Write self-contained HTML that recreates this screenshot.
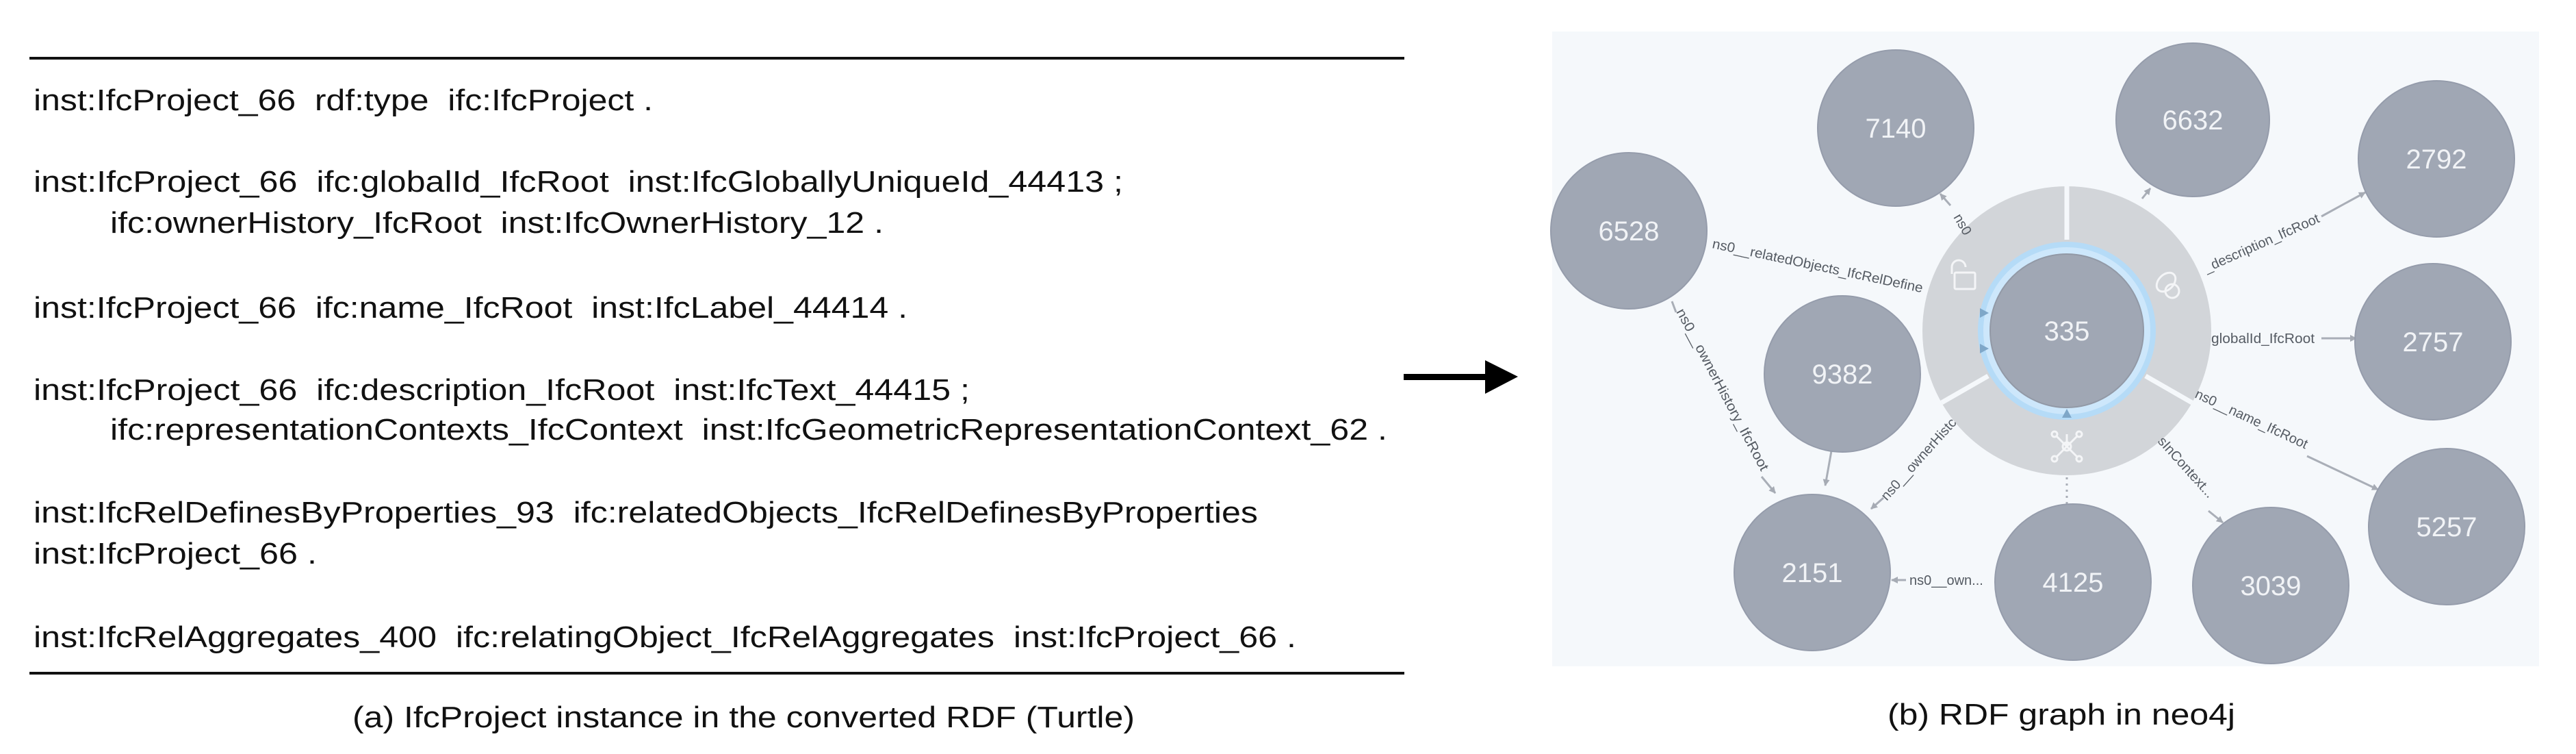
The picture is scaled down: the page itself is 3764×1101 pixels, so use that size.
<!DOCTYPE html>
<html><head><meta charset="utf-8"><style>
html,body{margin:0;padding:0;background:#fff;}
svg{display:block;}
.t{font-family:"Liberation Sans",Arial,sans-serif;font-size:44px;fill:#111;white-space:pre;}
.n{font-family:"Liberation Sans",Arial,sans-serif;font-size:40px;fill:#f1f3f6;text-anchor:middle;}
.l{font-family:"Liberation Sans",Arial,sans-serif;font-size:20px;fill:#555b63;white-space:pre;}
</style></head><body>
<svg width="3764" height="1101" viewBox="0 0 3764 1101" xmlns="http://www.w3.org/2000/svg">
<defs>
<marker id="ah" markerWidth="10" markerHeight="10" refX="9" refY="5" orient="auto" markerUnits="userSpaceOnUse" viewBox="0 0 10 10">
<path d="M0,0 L10,5 L0,10 z" fill="#a6abb4"/></marker>
</defs>
<!-- left panel -->
<rect x="43" y="83" width="2009" height="4" fill="#111"/>
<rect x="43" y="981" width="2009" height="4" fill="#111"/>
<text class="t" x="49" y="161" textLength="905" lengthAdjust="spacingAndGlyphs">inst:IfcProject_66  rdf:type  ifc:IfcProject .</text>
<text class="t" x="49" y="280" textLength="1592" lengthAdjust="spacingAndGlyphs">inst:IfcProject_66  ifc:globalId_IfcRoot  inst:IfcGloballyUniqueId_44413 ;</text>
<text class="t" x="161" y="340" textLength="1130" lengthAdjust="spacingAndGlyphs">ifc:ownerHistory_IfcRoot  inst:IfcOwnerHistory_12 .</text>
<text class="t" x="49" y="464" textLength="1277" lengthAdjust="spacingAndGlyphs">inst:IfcProject_66  ifc:name_IfcRoot  inst:IfcLabel_44414 .</text>
<text class="t" x="49" y="584" textLength="1368" lengthAdjust="spacingAndGlyphs">inst:IfcProject_66  ifc:description_IfcRoot  inst:IfcText_44415 ;</text>
<text class="t" x="161" y="642" textLength="1866" lengthAdjust="spacingAndGlyphs">ifc:representationContexts_IfcContext  inst:IfcGeometricRepresentationContext_62 .</text>
<text class="t" x="49" y="763" textLength="1789" lengthAdjust="spacingAndGlyphs">inst:IfcRelDefinesByProperties_93  ifc:relatedObjects_IfcRelDefinesByProperties</text>
<text class="t" x="49" y="823" textLength="414" lengthAdjust="spacingAndGlyphs">inst:IfcProject_66 .</text>
<text class="t" x="49" y="945" textLength="1845" lengthAdjust="spacingAndGlyphs">inst:IfcRelAggregates_400  ifc:relatingObject_IfcRelAggregates  inst:IfcProject_66 .</text>
<text class="t" x="515" y="1062" textLength="1143" lengthAdjust="spacingAndGlyphs">(a) IfcProject instance in the converted RDF (Turtle)</text>
<!-- arrow -->
<rect x="2051" y="546" width="130" height="9" fill="#000"/>
<path d="M2170,526 L2218,550 L2170,575 z" fill="#000"/>
<!-- right panel -->
<rect x="2268" y="46" width="1442" height="927" fill="#f5f8fb"/>
<g stroke="#a9aeb7" stroke-width="3" fill="none">
<line x1="2850" y1="300" x2="2835" y2="283" marker-end="url(#ah)"/>
<line x1="3130" y1="290" x2="3142" y2="275" marker-end="url(#ah)"/>
<line x1="3392" y1="316" x2="3456" y2="281" marker-end="url(#ah)"/>
<line x1="3392" y1="494" x2="3443" y2="494" marker-end="url(#ah)"/>
<line x1="3371" y1="666" x2="3475" y2="715" marker-end="url(#ah)"/>
<line x1="3227" y1="746" x2="3248" y2="763" marker-end="url(#ah)"/>
<line x1="2574" y1="696" x2="2594" y2="720" marker-end="url(#ah)"/>
<line x1="2677" y1="653" x2="2667" y2="709" marker-end="url(#ah)"/>
<line x1="2752" y1="727" x2="2734" y2="743" marker-end="url(#ah)"/>
<line x1="2785" y1="847" x2="2764" y2="847" marker-end="url(#ah)"/>
<line x1="2443" y1="440" x2="2449" y2="456"/>
<line x1="3020" y1="697" x2="3020" y2="737" stroke-dasharray="3,6"/>
</g>
<!-- center ring -->
<circle cx="3020" cy="483" r="211" fill="#d2d5d9"/>
<g stroke="#f5f8fb" stroke-width="7">
<line x1="3020" y1="270" x2="3020" y2="350"/>
<line x1="2837" y1="588" x2="2905" y2="549"/>
<line x1="3203" y1="588" x2="3135" y2="549"/>
</g>
<circle cx="3020" cy="483" r="126" fill="#cde7fb" stroke="#b5dbf7" stroke-width="8"/>
<circle cx="3020" cy="483" r="112" fill="#a0a7b4" stroke="#9299a6" stroke-width="2"/>
<g fill="#7fa7c8">
<path d="M2893,450 L2906,457 L2893,464 z"/><path d="M2893,502 L2906,509 L2893,516 z"/><path d="M3013,610 L3020,597 L3027,610 z"/>
</g>
<!-- icons -->
<g stroke="#f4f5f7" stroke-width="3" fill="none">
<rect x="2856" y="398" width="30" height="24" rx="2"/>
<path d="M2852,400 v-10 a10,10 0 0 1 20,0"/>
<ellipse cx="3165" cy="412" rx="16" ry="11" transform="rotate(-45 3165 412)"/>
<circle cx="3174" cy="425" r="10"/>
<circle cx="3020" cy="652" r="6"/>
<path d="M3020,652 L3004,636 M3020,652 L3036,636 M3020,652 L3004,668 M3020,652 L3036,668 M3020,652 L3020,634"/>
<circle cx="3002" cy="634" r="4"/><circle cx="3038" cy="634" r="4"/><circle cx="3002" cy="670" r="4"/><circle cx="3038" cy="670" r="4"/>
</g>
<!-- nodes -->
<g fill="#a0a7b4" stroke="#959cab" stroke-width="2">
<circle cx="2770" cy="187" r="114"/>
<circle cx="3204" cy="175" r="112"/>
<circle cx="3560" cy="232" r="114"/>
<circle cx="2380" cy="337" r="114"/>
<circle cx="2692" cy="546" r="114"/>
<circle cx="3555" cy="499" r="114"/>
<circle cx="3575" cy="769" r="114"/>
<circle cx="2648" cy="836" r="114"/>
<circle cx="3029" cy="850" r="114"/>
<circle cx="3318" cy="855" r="114"/>
</g>
<text class="n" x="2770" y="201">7140</text>
<text class="n" x="3204" y="189">6632</text>
<text class="n" x="3560" y="246">2792</text>
<text class="n" x="2380" y="351">6528</text>
<text class="n" x="2692" y="560">9382</text>
<text class="n" x="3020" y="497">335</text>
<text class="n" x="3555" y="513">2757</text>
<text class="n" x="3575" y="783">5257</text>
<text class="n" x="2648" y="850">2151</text>
<text class="n" x="3029" y="864">4125</text>
<text class="n" x="3318" y="869">3039</text>
<!-- labels -->
<text class="l" transform="translate(2854,317) rotate(60)">ns0</text>
<text class="l" transform="translate(3224,398) rotate(-24)">_description_IfcRoot</text>
<text class="l" x="3231" y="501" textLength="151" lengthAdjust="spacingAndGlyphs">globalId_IfcRoot</text>
<text class="l" transform="translate(3206,580) rotate(25)">ns0__name_IfcRoot</text>
<text class="l" transform="translate(3152,645) rotate(48)">sInContext...</text>
<text class="l" transform="translate(2501,362) rotate(12)" textLength="314" lengthAdjust="spacingAndGlyphs">ns0__relatedObjects_IfcRelDefine</text>
<text class="l" transform="translate(2449,455) rotate(62)" textLength="265" lengthAdjust="spacingAndGlyphs">ns0__ownerHistory_IfcRoot</text>
<text class="l" transform="translate(2757,732) rotate(-48)">ns0__ownerHistc</text>
<text class="l" x="2790" y="854">ns0__own...</text>
<text class="t" x="2758" y="1058" textLength="508" lengthAdjust="spacingAndGlyphs">(b) RDF graph in neo4j</text>
</svg>
</body></html>
